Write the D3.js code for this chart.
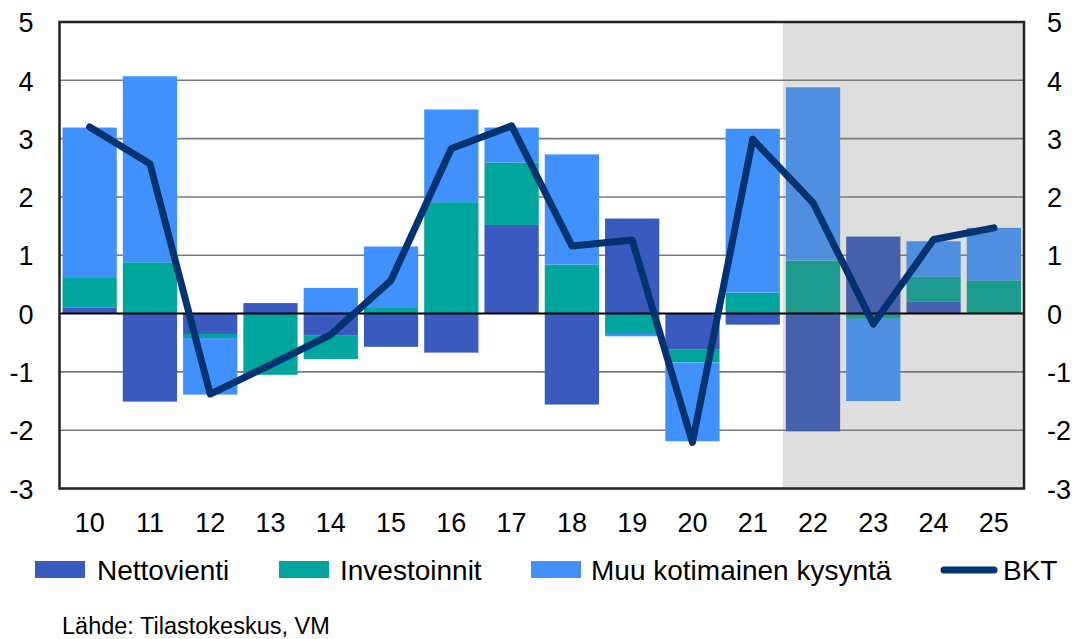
<!DOCTYPE html>
<html><head><meta charset="utf-8">
<style>
body { margin: 0; background: #fff; }
text { font-family: "Liberation Sans", Arial, sans-serif; fill: #000; }
</style>
</head><body><svg width="1076" height="639"></svg>
<script src="https://cdn.jsdelivr.net/npm/d3@7"></script>
<script>

var years = ["10", "11", "12", "13", "14", "15", "16", "17", "18", "19", "20", "21", "22", "23", "24", "25"];
var nettovienti = [0.1, -1.51, -0.35, 0.18, -0.38, -0.57, -0.67, 1.52, -1.56, 1.63, -0.62, -0.19, -2.02, 1.32, 0.21, 0];
var investoinnit = [0.51, 0.88, -0.07, -1.05, -0.40, 0.11, 1.91, 1.07, 0.84, -0.35, -0.22, 0.36, 0.91, -0.09, 0.42, 0.57];
var muuKysynta = [2.58, 3.19, -0.97, 0, 0.44, 1.04, 1.59, 0.6, 1.89, -0.04, -1.35, 2.81, 2.97, -1.41, 0.61, 0.9];
var bkt = [3.2, 2.57, -1.38, -0.88, -0.36, 0.57, 2.83, 3.22, 1.16, 1.26, -2.21, 2.99, 1.9, -0.18, 1.27, 1.47];
var yTicks = [5, 4, 3, 2, 1, 0, -1, -2, -3];
var firstForecast = "22";

var keys = ["Nettovienti", "Investoinnit", "Muu kotimainen kysyntä"];
var colors = ["#3a5abf", "#00a59d", "#4191fd"];
var forecastColors = ["#4660ac", "#1f9a8f", "#4f8fdf"];

var rows = years.map(function(y, i) {
  return { year: y, "Nettovienti": nettovienti[i], "Investoinnit": investoinnit[i], "Muu kotimainen kysyntä": muuKysynta[i] };
});

var svg = d3.select("svg");
var plotLeft = 59.5, plotRight = 1024, plotTop = 22, plotBottom = 488.5;

var x = d3.scaleBand().domain(years).range([plotLeft, plotRight]).paddingInner(0.1).paddingOuter(0.05);
var y = d3.scaleLinear().domain([-3, 5]).range([plotBottom, plotTop]);

// forecast shading
var fx = x(firstForecast) - x.step() * x.paddingInner() / 2;
svg.append("rect")
    .attr("x", fx).attr("y", plotTop)
    .attr("width", plotRight - fx).attr("height", plotBottom - plotTop)
    .attr("fill", "#dedede");

// gridlines
svg.append("g")
  .selectAll("line")
  .data(yTicks.filter(function(d) { return d !== 0 && d !== 5 && d !== -3; }))
  .join("line")
    .attr("x1", plotLeft).attr("x2", plotRight)
    .attr("y1", function(d) { return y(d); }).attr("y2", function(d) { return y(d); })
    .attr("stroke", "#7a7a7a").attr("stroke-width", 1.6);

var series = d3.stack().keys(keys).offset(d3.stackOffsetDiverging)(rows);

svg.append("g")
  .selectAll("g")
  .data(series)
  .join("g")
  .selectAll("rect")
  .data(function(s, si) { return s.map(function(d) { d.si = si; return d; }); })
  .join("rect")
    .attr("x", function(d) { return x(d.data.year); })
    .attr("width", x.bandwidth())
    .attr("y", function(d) { return y(Math.max(d[0], d[1])); })
    .attr("height", function(d) { return Math.abs(y(d[0]) - y(d[1])); })
    .attr("fill", function(d) { return +d.data.year >= +firstForecast ? forecastColors[d.si] : colors[d.si]; });

// zero line
svg.append("line")
    .attr("x1", plotLeft).attr("x2", plotRight)
    .attr("y1", y(0)).attr("y2", y(0))
    .attr("stroke", "#000").attr("stroke-width", 2);

// BKT line
var line = d3.line()
    .x(function(d, i) { return x(years[i]) + x.bandwidth() / 2; })
    .y(function(d) { return y(d); });

svg.append("path")
    .datum(bkt)
    .attr("d", line)
    .attr("fill", "none")
    .attr("stroke", "#00336f")
    .attr("stroke-width", 7)
    .attr("stroke-linejoin", "round")
    .attr("stroke-linecap", "round");

// frame
svg.append("rect")
    .attr("x", plotLeft).attr("y", plotTop)
    .attr("width", plotRight - plotLeft).attr("height", plotBottom - plotTop)
    .attr("fill", "none").attr("stroke", "#222").attr("stroke-width", 2.5);

// axes (plain hyphen for minus, as in the original)
var fmt = function(d) { return String(d); };

var yLeft = d3.axisLeft(y).tickValues(yTicks).tickSize(0).tickPadding(26).tickFormat(fmt);
svg.append("g").attr("transform", "translate(" + plotLeft + ",0)").call(yLeft)
  .call(function(g) { g.select(".domain").remove(); })
  .selectAll("text").style("font-size", "27px").attr("dy", "0.36em");

var yRight = d3.axisRight(y).tickValues(yTicks).tickSize(0).tickPadding(23).tickFormat(fmt);
svg.append("g").attr("transform", "translate(" + plotRight + ",0)").call(yRight)
  .call(function(g) { g.select(".domain").remove(); })
  .selectAll("text").style("font-size", "27px").attr("dy", "0.36em");

var xAxis = d3.axisBottom(x).tickSize(0).tickPadding(24);
svg.append("g").attr("transform", "translate(0," + plotBottom + ")").call(xAxis)
  .call(function(g) { g.select(".domain").remove(); })
  .selectAll("text").style("font-size", "27px");

svg.selectAll(".tick text").attr("fill", "#000").style("font-family", "'Liberation Sans', Arial, sans-serif");

// legend
var legendItems = [
  { label: "Nettovienti", color: colors[0], sx: 35, tx: 97 },
  { label: "Investoinnit", color: colors[1], sx: 279, tx: 340 },
  { label: "Muu kotimainen kysyntä", color: colors[2], sx: 531, tx: 591 }
];
var legend = svg.append("g");
legend.selectAll("rect")
  .data(legendItems)
  .join("rect")
    .attr("x", function(d) { return d.sx; }).attr("y", 561)
    .attr("width", 50).attr("height", 17)
    .attr("fill", function(d) { return d.color; });
legend.selectAll("text")
  .data(legendItems.concat([{ label: "BKT", tx: 1003 }]))
  .join("text")
    .attr("x", function(d) { return d.tx; }).attr("y", 580)
    .style("font-size", "28px")
    .text(function(d) { return d.label; });
legend.append("line")
    .attr("x1", 944).attr("x2", 994).attr("y1", 570).attr("y2", 570)
    .attr("stroke", "#00336f").attr("stroke-width", 7).attr("stroke-linecap", "round");

svg.append("text")
    .attr("x", 62).attr("y", 634)
    .style("font-size", "23.5px")
    .text("Lähde: Tilastokeskus, VM");

</script>
</body></html>
